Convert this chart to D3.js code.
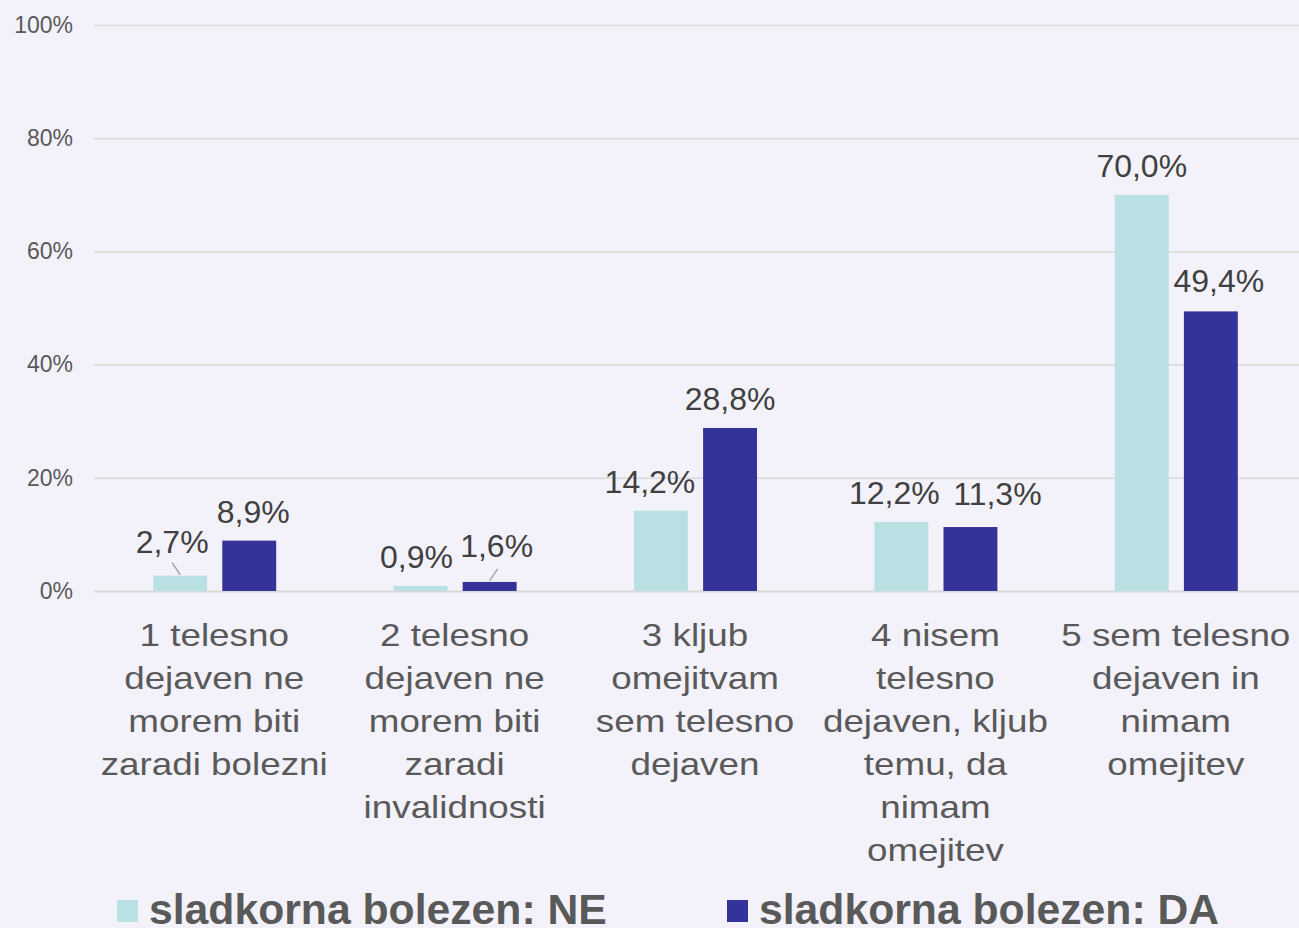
<!DOCTYPE html>
<html>
<head>
<meta charset="utf-8">
<script src="https://cdn.jsdelivr.net/npm/d3@7"></script>
<style>
  html, body { margin: 0; padding: 0; background: #f3f2fb; }
  svg { display: block; font-family: "Liberation Sans", Arial, sans-serif; }
</style>
</head>
<body>
<div id="chart"></div>
<script>
// data
const categories = ["1", "2", "3", "4", "5"];
const categoryLines = [
  ["1 telesno", "dejaven ne", "morem biti", "zaradi bolezni"],
  ["2 telesno", "dejaven ne", "morem biti", "zaradi", "invalidnosti"],
  ["3 kljub", "omejitvam", "sem telesno", "dejaven"],
  ["4 nisem", "telesno", "dejaven, kljub", "temu, da", "nimam", "omejitev"],
  ["5 sem telesno", "dejaven in", "nimam", "omejitev"]
];
const seriesNames = ["sladkorna bolezen: NE", "sladkorna bolezen: DA"];
const valuesNE = [2.7, 0.9, 14.2, 12.2, 70.0];
const valuesDA = [8.9, 1.6, 28.8, 11.3, 49.4];
const yTicks = [0, 20, 40, 60, 80, 100];
const colors = ["#b9e0e2", "#343399"];

// label nudges (same order as values), to keep labels from overlapping
const nudgeNE = [[-8, -5, true], [-4, 0, false], [-11, 0, false], [-7, 0, false], [0, 0, false]];
const nudgeDA = [[4, 0, false], [7, -7, true], [0, 0, false], [27, -4, false], [8, -1, false]];

width = 1299;
height = 928;

const svg = d3.select("#chart")
  .append("svg")
  .attr("width", width)
  .attr("height", height);

const x0 = d3.scaleBand()
  .domain(categories)
  .range([94, 1296]);

const bw = x0.bandwidth();

const x1 = d3.scaleBand()
  .domain(seriesNames)
  .range([bw / 2 - 61, bw / 2 + 62])
  .paddingInner(0.22);

const y = d3.scaleLinear()
  .domain([0, 100])
  .range([591, 25]);

// gridlines + y labels
const yAxis = svg.append("g")
  .attr("transform", "translate(94,0)")
  .call(d3.axisLeft(y)
    .tickValues(yTicks)
    .tickSize(-(width - 94))
    .tickPadding(21)
    .tickFormat(d => d + "%"));

yAxis.select(".domain").remove();
yAxis.selectAll(".tick line")
  .attr("stroke", "#d9d9d9")
  .attr("stroke-width", d => d === 0 ? 2 : 1.5);
yAxis.selectAll(".tick text")
  .attr("fill", "#595959")
  .style("font-size", "23px")
  .style("font-family", "'Liberation Sans', Arial, sans-serif");

const locale = d3.formatLocale({decimal: ",", thousands: ".", grouping: [3], currency: ["", "€"]});
const fmt = locale.format(".1f");

const rows = categories.map((c, i) => ({
  cat: c,
  vals: [
    {s: seriesNames[0], v: valuesNE[i], n: nudgeNE[i], c: colors[0]},
    {s: seriesNames[1], v: valuesDA[i], n: nudgeDA[i], c: colors[1]}
  ]
}));

const groups = svg.append("g")
  .selectAll("g")
  .data(rows)
  .enter().append("g")
    .attr("transform", d => "translate(" + x0(d.cat) + ",0)");

groups.selectAll("rect")
  .data(d => d.vals)
  .enter().append("rect")
    .attr("x", d => x1(d.s))
    .attr("width", x1.bandwidth())
    .attr("y", d => y(d.v))
    .attr("height", d => y(0) - y(d.v))
    .attr("fill", d => d.c);

groups.selectAll("text.val")
  .data(d => d.vals)
  .enter().append("text")
    .attr("class", "val")
    .attr("x", d => x1(d.s) + x1.bandwidth() / 2 + d.n[0])
    .attr("y", d => y(d.v) - 18 + d.n[1])
    .attr("text-anchor", "middle")
    .attr("fill", "#404040")
    .style("font-size", "32px")
    .text(d => fmt(d.v) + "%");

// leader lines for the small bars
groups.selectAll("line.lead")
  .data(d => d.vals.filter(v => v.n[2]))
  .enter().append("line")
    .attr("class", "lead")
    .attr("x1", d => x1(d.s) + x1.bandwidth() / 2 + (d.n[0] < 0 ? -8 : 8))
    .attr("y1", d => y(d.v) - 13)
    .attr("x2", d => x1(d.s) + x1.bandwidth() / 2)
    .attr("y2", d => y(d.v) - 1)
    .attr("stroke", "#a6a6a6")
    .attr("stroke-width", 1.5);

// category labels (font is drawn a bit wide in the original)
const catLabels = svg.append("g")
  .selectAll("text")
  .data(categories)
  .enter().append("text")
    .attr("transform", d => "translate(" + (x0(d) + bw / 2) + ",0) scale(1.15,1)")
    .attr("text-anchor", "middle")
    .attr("fill", "#595959")
    .style("font-size", "32px");

catLabels.selectAll("tspan")
  .data((d, i) => categoryLines[i])
  .enter().append("tspan")
    .attr("x", 0)
    .attr("y", (d, i) => 646 + i * 43)
    .text(d => d);

// legend
const legendX = [117, 727];
const legend = svg.append("g")
  .selectAll("g")
  .data(seriesNames)
  .enter().append("g")
    .attr("transform", (d, i) => "translate(" + legendX[i] + ",0)");

legend.append("rect")
  .attr("y", 900)
  .attr("width", 21)
  .attr("height", 22)
  .attr("fill", (d, i) => colors[i]);

legend.append("text")
  .attr("x", 32)
  .attr("y", 924)
  .attr("fill", "#595959")
  .style("font-size", "42.7px")
  .style("font-weight", "bold")
  .text(d => d);
</script>
</body>
</html>
